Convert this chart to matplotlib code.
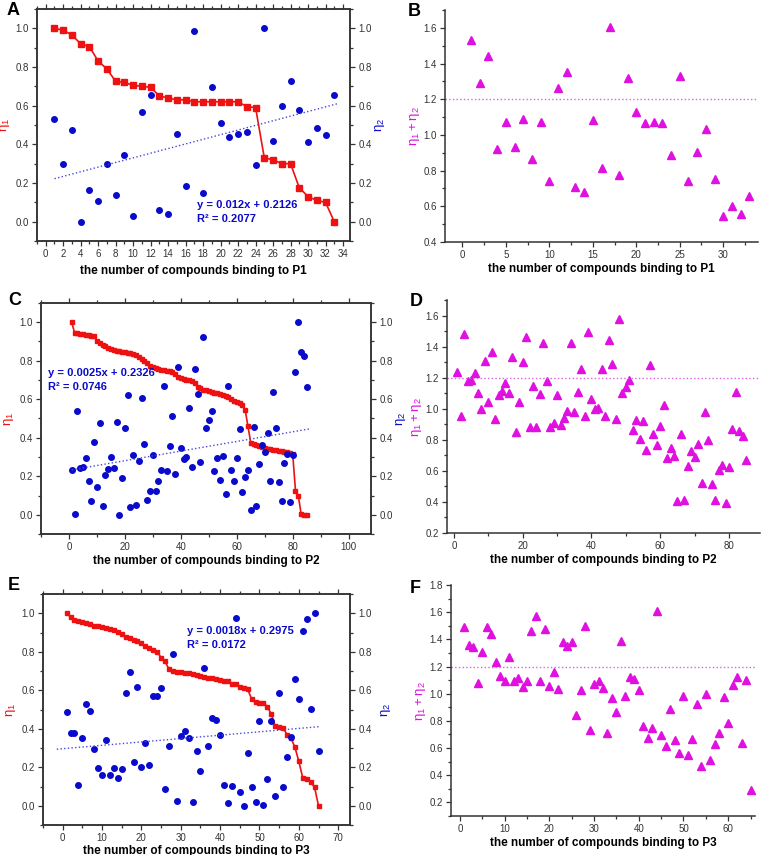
import numpy as np
import matplotlib
matplotlib.use('Agg')
import matplotlib.pyplot as plt
from matplotlib.ticker import MultipleLocator

plt.rcParams['font.family'] = ['Liberation Sans', 'DejaVu Sans']
plt.rcParams['mathtext.fontset'] = 'custom'
plt.rcParams['mathtext.rm'] = 'Liberation Sans'

# ---- panel A / B : P1 ----
eta1_p1 = [1.0, 0.99, 0.965, 0.92, 0.905, 0.83, 0.79, 0.725, 0.72, 0.705, 0.70, 0.695,
           0.65, 0.64, 0.63, 0.63, 0.62, 0.62, 0.62, 0.62, 0.62, 0.62, 0.595, 0.59,
           0.33, 0.32, 0.30, 0.30, 0.175, 0.13, 0.11, 0.10, 0.0]
eta2_p1 = [0.53, 0.30, 0.475, 0.0, 0.165, 0.105, 0.30, 0.14, 0.345, 0.03, 0.565, 0.655,
           0.06, 0.04, 0.455, 0.185, 0.985, 0.15, 0.695, 0.51, 0.44, 0.455, 0.465, 0.295,
           1.0, 0.415, 0.60, 0.73, 0.575, 0.41, 0.485, 0.45, 0.655]
sum_p1 = [1.53, 1.29, 1.44, 0.92, 1.07, 0.935, 1.09, 0.865, 1.07, 0.74, 1.265, 1.35,
          0.71, 0.68, 1.085, 0.815, 1.605, 0.775, 1.32, 1.13, 1.065, 1.075, 1.065, 0.89,
          1.33, 0.74, 0.905, 1.035, 0.755, 0.545, 0.60, 0.555, 0.655]

# ---- panel C / D : P2 ----
eta1_p2 = [1.0, 0.945, 0.943, 0.94, 0.938, 0.935, 0.932, 0.93, 0.927, 0.90, 0.89, 0.88,
           0.875, 0.865, 0.86, 0.855, 0.85, 0.85, 0.848, 0.845, 0.842, 0.84, 0.835, 0.83,
           0.82, 0.81, 0.80, 0.79, 0.775, 0.765, 0.76, 0.755, 0.75, 0.75, 0.748, 0.745,
           0.74, 0.73, 0.715, 0.71, 0.705, 0.70, 0.70, 0.695, 0.685, 0.665, 0.66, 0.65,
           0.648, 0.645, 0.64, 0.635, 0.63, 0.625, 0.62, 0.615, 0.61, 0.60, 0.59, 0.585,
           0.58, 0.57, 0.545, 0.46, 0.375, 0.37, 0.36, 0.355, 0.35, 0.345, 0.34, 0.34,
           0.338, 0.335, 0.333, 0.33, 0.328, 0.325, 0.32, 0.315, 0.125, 0.10, 0.005, 0.0, 0.0]
eta2_p2 = [0.234, 0.003, 0.54, 0.245, 0.25, 0.295, 0.173, 0.073, 0.38, 0.142, 0.475, 0.047,
           0.208, 0.24, 0.30, 0.242, 0.48, 0.0, 0.19, 0.45, 0.62, 0.038, 0.31, 0.052,
           0.277, 0.607, 0.37, 0.078, 0.123, 0.308, 0.123, 0.173, 0.234, 0.67, 0.228, 0.356,
           0.515, 0.211, 0.766, 0.348, 0.292, 0.30, 0.554, 0.247, 0.758, 0.625, 0.273, 0.925,
           0.453, 0.493, 0.54, 0.225, 0.294, 0.182, 0.303, 0.11, 0.67, 0.234, 0.173, 0.297,
           0.446, 0.116, 0.195, 0.232, 0.024, 0.458, 0.047, 0.265, 0.36, 0.325, 0.424, 0.173,
           0.64, 0.45, 0.171, 0.074, 0.268, 0.315, 0.064, 0.308, 0.74, 1.0, 0.848, 0.825, 0.664]
sum_p2 = [1.235, 0.95, 1.484, 1.179, 1.183, 1.229, 1.10, 0.997, 1.306, 1.044, 1.368, 0.934,
          1.087, 1.113, 1.164, 1.10, 1.334, 0.848, 1.042, 1.30, 1.465, 0.88, 1.149, 0.883,
          1.098, 1.422, 1.179, 0.883, 0.911, 1.087, 0.898, 0.941, 0.988, 1.424, 0.979, 1.108,
          1.259, 0.956, 1.497, 1.063, 1.0, 1.005, 1.259, 0.95, 1.445, 1.289, 0.937, 1.578,
          1.10, 1.143, 1.183, 0.866, 0.93, 0.808, 0.924, 0.733, 1.284, 0.84, 0.765, 0.891,
          1.027, 0.685, 0.748, 0.694, 0.404, 0.838, 0.415, 0.629, 0.726, 0.687, 0.773, 0.52,
          0.982, 0.797, 0.513, 0.415, 0.604, 0.64, 0.391, 0.627, 0.872, 1.106, 0.859, 0.827, 0.668]

# ---- panel E / F : P3 ----
eta1_p3 = [1.0, 0.98, 0.965, 0.962, 0.955, 0.95, 0.945, 0.935, 0.933, 0.93, 0.925, 0.92,
           0.915, 0.905, 0.89, 0.875, 0.87, 0.86, 0.855, 0.845, 0.83, 0.82, 0.81, 0.80,
           0.77, 0.75, 0.71, 0.70, 0.695, 0.695, 0.69, 0.688, 0.685, 0.68, 0.675, 0.67,
           0.665, 0.662, 0.66, 0.655, 0.65, 0.648, 0.635, 0.63, 0.615, 0.61, 0.605, 0.555,
           0.54, 0.535, 0.535, 0.515, 0.475, 0.415, 0.41, 0.405, 0.37, 0.35, 0.305, 0.23,
           0.145, 0.14, 0.125, 0.095, 0.0]
eta2_p3 = [0.485, 0.378, 0.378, 0.109, 0.352, 0.529, 0.494, 0.295, 0.194, 0.161, 0.343, 0.161,
           0.194, 0.144, 0.189, 0.586, 0.697, 0.225, 0.619, 0.203, 0.324, 0.211, 0.568, 0.568,
           0.612, 0.087, 0.308, 0.789, 0.026, 0.364, 0.386, 0.35, 0.021, 0.286, 0.182, 0.714,
           0.312, 0.456, 0.447, 0.367, 0.107, 0.014, 0.104, 0.974, 0.073, 0.0, 0.272, 0.10,
           0.021, 0.442, 0.003, 0.139, 0.442, 0.052, 0.584, 0.10, 0.251, 0.359, 0.659, 0.553,
           0.91, 0.97, 0.503, 1.0, 0.286]
sum_p3 = [1.493, 1.361, 1.346, 1.081, 1.309, 1.488, 1.439, 1.236, 1.13, 1.096, 1.272, 1.091,
          1.118, 1.047, 1.091, 1.464, 1.572, 1.096, 1.479, 1.056, 1.157, 1.034, 1.383, 1.351,
          1.383, 0.843, 1.027, 1.498, 0.733, 1.069, 1.093, 1.044, 0.713, 0.971, 0.867, 1.39,
          0.985, 1.125, 1.108, 1.027, 0.764, 0.671, 0.745, 1.611, 0.696, 0.617, 0.887, 0.659,
          0.566, 0.985, 0.548, 0.664, 0.921, 0.471, 1.0, 0.512, 0.627, 0.708, 0.973, 0.787,
          1.064, 1.12, 0.634, 1.101, 0.291]

fit_text = ['y = 0.012x + 0.2126\nR² = 0.2077',
            'y = 0.0025x + 0.2326\nR² = 0.0746',
            'y = 0.0018x + 0.2975\nR² = 0.0172']
proteins = ['P1', 'P2', 'P3']

RED = '#ee1111'
BLUE = '#0a0acc'
MAG = '#e010e0'
TICKC = '#333333'

W, H = 765, 855
fig = plt.figure(figsize=(W / 100, H / 100), dpi=100)


def px_axes(left, top, right, bottom):
    return fig.add_axes([left / W, 1 - bottom / H, (right - left) / W, (bottom - top) / H])


def style_ticks(ax):
    ax.tick_params(which='both', labelsize=7, labelcolor=TICKC, width=0.9, color='#333333', pad=2.5)
    ax.tick_params(which='major', length=3.5)
    ax.tick_params(which='minor', length=2)
    for s in ax.spines.values():
        s.set_linewidth(1.1)
        s.set_color('#333333')


def eta_panel(ax, eta1, eta2, xlim, xmaj, xmin, text, text_xy, fit_range, msize, rpad):
    x = np.arange(1, len(eta1) + 1)
    ax.plot(x, eta1, '-s', color=RED, ms=msize, lw=1.2, mec=RED)
    ax2 = ax.twinx()
    ax2.plot(x, eta2, 'o', color=BLUE, ms=4, mec=BLUE)
    k, b = np.polyfit(x, eta2, 1)
    xf = np.array(fit_range)
    ax2.plot(xf, k * xf + b, ':', color='#4848d8', lw=1.0)
    ax2.text(text_xy[0], text_xy[1], text, transform=ax.transAxes, color=BLUE,
             fontsize=8, fontweight='bold', va='top', linespacing=1.5)
    for a in (ax, ax2):
        a.set_ylim(-0.1, 1.1)
        a.set_xlim(*xlim)
        a.yaxis.set_major_locator(MultipleLocator(0.2))
        a.yaxis.set_minor_locator(MultipleLocator(0.1))
        a.yaxis.set_major_formatter('{x:.1f}')
        style_ticks(a)
    ax.xaxis.set_major_locator(MultipleLocator(xmaj))
    ax.xaxis.set_minor_locator(MultipleLocator(xmin))
    ax.tick_params(axis='x', which='both', top=True)
    ax.set_ylabel(r'$\mathregular{\eta_1}$', color=RED, fontsize=9.5, labelpad=2)
    ax2.set_ylabel(r'$\mathregular{\eta_2}$', color=BLUE, fontsize=9.5, labelpad=rpad)
    return ax2


def sum_panel(ax, vals, xlim, ylim, xmaj, xmin):
    x = np.arange(1, len(vals) + 1)
    ax.plot(x, vals, '^', color=MAG, ms=5.5, mec=MAG)
    ax.axhline(1.2, color='#e060e0', ls=':', lw=1.0)
    ax.set_xlim(*xlim)
    ax.set_ylim(*ylim)
    ax.xaxis.set_major_locator(MultipleLocator(xmaj))
    ax.xaxis.set_minor_locator(MultipleLocator(xmin))
    ax.yaxis.set_major_locator(MultipleLocator(0.2))
    ax.yaxis.set_minor_locator(MultipleLocator(0.1))
    ax.yaxis.set_major_formatter('{x:.1f}')
    ax.spines['top'].set_visible(False)
    ax.spines['right'].set_visible(False)
    style_ticks(ax)
    ax.set_ylabel(r'$\mathregular{\eta_1 + \eta_2}$', color=MAG, fontsize=9.5, labelpad=1)


xlab = 'the number of compounds binding to {}'

# A
axA = px_axes(37, 9, 350, 241)
eta_panel(axA, eta1_p1, eta2_p1, (-1, 34.8), 2, 1, fit_text[0], (0.51, 0.175), (1, 33.5), 4, 1)
axA.set_xlabel(xlab.format(proteins[0]), fontsize=8.5, fontweight='bold', labelpad=4)

# B
axB = px_axes(445, 10, 758, 242)
sum_panel(axB, sum_p1, (-2, 34), (0.4, 1.7), 5, 2.5)
axB.set_xlabel(xlab.format(proteins[0]), fontsize=8.5, fontweight='bold', labelpad=2)

# C
axC = px_axes(41, 303, 371, 534)
eta_panel(axC, eta1_p2, eta2_p2, (-10, 108), 20, 10, fit_text[1], (0.02, 0.72), (1, 86), 3.2, 1)
axC.set_xlabel(xlab.format(proteins[1]), fontsize=8.5, fontweight='bold', labelpad=2)

# D
axD = px_axes(447, 300, 760, 533)
sum_panel(axD, sum_p2, (-2, 89), (0.2, 1.7), 20, 10)
axD.set_xlabel(xlab.format(proteins[1]), fontsize=8.5, fontweight='bold', labelpad=2)

# E
axE = px_axes(43, 594, 350, 825)
eta_panel(axE, eta1_p3, eta2_p3, (-5, 73), 10, 5, fit_text[2], (0.47, 0.86), (-1.5, 65), 3.2, 5)
axE.set_xlabel(xlab.format(proteins[2]), fontsize=8.5, fontweight='bold', labelpad=1)

# F
axF = px_axes(451, 585, 755, 816)
sum_panel(axF, sum_p3, (-2, 66), (0.1, 1.8), 10, 5)
axF.set_xlabel(xlab.format(proteins[2]), fontsize=8.5, fontweight='bold', labelpad=2)

# panel letters
for letter, (lx, ly) in zip('ABCDEF', [(7, 2), (408, 3), (8, 292), (410, 293), (8, 577), (410, 580)]):
    fig.text(lx / W, 1 - ly / H, letter, fontsize=13, fontweight='bold', va='top', ha='left')

fig.savefig('out.png', dpi=100)
